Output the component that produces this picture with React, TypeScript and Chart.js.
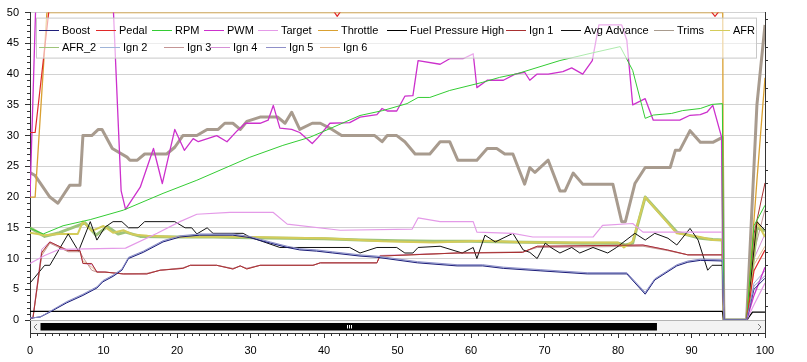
import React, { useEffect, useRef } from 'react';
import { Chart, registerables } from 'chart.js';
Chart.register(...registerables);

// ---------------- data ----------------
const boostX = [0, 1.4, 2.7, 5, 7.2, 9.1, 9.9, 11.3, 12.5, 13.4, 15.4, 18.1, 20.4, 23.1, 27.6, 29.9, 32.7, 35, 36.7, 39, 41.2, 44.9, 47.2, 52.7, 58.1, 61.6, 64.4, 69.4, 75.8, 81.2, 83.7, 85, 88, 89.5, 91.2, 94.2, 94.4, 97.5, 98.5, 100];
const boostY = [0.3, 0.5, 1.3, 2.8, 4, 5.2, 6.2, 7.1, 8.1, 10, 11, 12.7, 13.5, 13.8, 13.8, 13.4, 12.5, 11.8, 11.4, 11.2, 10.9, 10.4, 10.2, 9.3, 8.8, 8.8, 8.4, 8, 7.5, 7.5, 4.2, 6.5, 8.8, 9.4, 9.7, 9.6, 0, 0, 5, 6.8];

const pedalX = [0, 0.7, 2.6, 41.1, 41.8, 42.5, 92.4, 93.2, 94.0, 94.2, 96, 97.5, 98.5, 100];
const pedalY = [30.5, 30.5, 50.6, 50.6, 49.4, 50.6, 50.6, 49.4, 50.6, 50.6, null, 0, 8, 11.4];

const rpmX = [0, 1.8, 4.5, 8.2, 12.7, 18.1, 22.7, 29.9, 34.4, 38.1, 41.2, 44.9, 48, 51.3, 52.8, 54.4, 57.1, 61.6, 63.9, 66.3, 72.1, 76.6, 80.3, 82, 83.7, 84.8, 87.3, 88.8, 91.2, 92.8, 94.2, 94.4, 97.5, 98.5, 100];
const rpmY = [2240, 2100, 2300, 2450, 2680, 3090, 3410, 3970, 4260, 4460, 4700, 4990, 5110, 5280, 5430, 5430, 5600, 5800, 5920, 6010, 6330, 6520, 6670, 6090, 4920, 5000, 5040, 5110, 5160, 5260, 5280, 0, 0, 2300, 2800];

const pwmX = [0, 1, 11, 12.4, 13, 15, 16.8, 18, 19.7, 21, 22.2, 22.9, 25.4, 26.8, 28.2, 29.3, 31.3, 32.4, 33.1, 34, 35.6, 36.7, 38.4, 39.2, 40.8, 43.5, 44.9, 47.2, 47.9, 48.6, 49.9, 51, 52.1, 52.8, 55.8, 57.1, 58.9, 60.3, 60.8, 62.2, 64.4, 66, 67.3, 68, 69, 70.5, 72.5, 73.7, 75.2, 76.5, 77.4, 80.5, 81.2, 82, 83.7, 84.8, 88.4, 89.8, 91.2, 92.1, 92.9, 94.1, 94.4, 97.5, 98.5, 100];
const pwmY = [20, 60, 60, 21, 18, 21.6, 27.9, 22.2, 31, 27.6, 29.5, 29, 30, 29, 30.8, 32, 32, 32.5, 34.9, 31.2, 31, 30.5, 28.7, 29.7, 32, 32.1, 33, 33.4, 34.4, 34, 34, 36.4, 36.5, 42.2, 41.6, 42.5, 42.5, 43.3, 37.8, 39, 39, 40, 40.3, 39, 40, 40, 40.4, 41, 40, 42.2, 48, 48, 45.5, 35, 36, 32.5, 32.5, 33.3, 33.4, 33.8, 34.9, 29.7, 0, 0, 4, 8.6];

const targetX = [0, 2, 4, 13, 17.3, 20.4, 22.7, 27.2, 33.1, 35, 42.2, 52, 52.8, 55.8, 60.3, 60.8, 65.7, 68.4, 76.6, 77.9, 82, 83.4, 94.2, 94.4, 97.5, 98.5, 100];
const targetY = [9.2, 10.5, 11.5, 11.7, 14.1, 16, 17.2, 17.5, 17.5, 15.6, 14.6, 14.8, 16.6, 16, 16, 14.3, 14.1, 13.5, 13.5, 15.4, 15.7, 14.3, 14.3, 0, 0, 2.5, 6];

const throttleX = [0, 0.7, 2.3, 94.25, 94.35, 97.5, 98.9, 100];
const throttleY = [20, 20, 50, 50, 0, 0, 22.7, 39.4];

const fuelX = [0, 94.2, 94.4, 97.5, 98.3, 100];
const fuelY = [1.4, 1.4, 0, 0, 1.3, 1.3];

const ignX = [0, 0.4, 1.6, 2.7, 5.2, 6.8, 7.2, 8.4, 9.1, 10.2, 12.7, 15.9, 17.7, 20.8, 21.8, 25.4, 27.6, 28.6, 29.5, 31.3, 38.5, 39.5, 47.2, 47.6, 58.1, 67, 69, 83.4, 86.7, 89.5, 94.2, 94.4, 97.5, 98.5, 100];
const ign1Y = [0.3, 0.3, 11, 12.7, 11.3, 11.3, 9.2, 9.2, 7.8, 7.8, 7.5, 7.5, 8.1, 8.4, 8.9, 8.9, 8.3, 8.8, 8.3, 8.9, 8.9, 9.3, 9.3, 10.4, 10.9, 11, 12, 12.2, 11.4, 10.6, 10.6, 0, 0, 14, 22.3];
const ign3Y = [0.3, 0.3, 10.5, 12.5, 11.1, 11.1, 10.2, 8.1, 7.8, 7.8, 7.5, 7.6, 8.1, 8.5, 8.9, 8.9, 8.4, 8.8, 8.4, 8.9, 8.9, 9.3, 9.3, 10.4, 10.9, 11.1, 11.8, 12, 11.3, 10.6, 10.6, 0, 0, 11, 18];
const ign4Y = [0.3, 0.5, 11.5, 12.7, 11.3, 11.3, 9.2, 9.0, 7.9, 7.8, 7.5, 7.5, 8.1, 8.4, 8.9, 8.9, 8.3, 8.8, 8.4, 8.9, 8.9, 9.3, 9.3, 10.5, 10.9, 11, 11.9, 12.2, 11.4, 10.6, 10.6, 0, 0, 10, 14];
const ign6Y = [0.3, 0.3, 10.8, 12.6, 11.2, 11.2, 9.6, 8.6, 7.8, 7.8, 7.5, 7.5, 8.1, 8.4, 8.9, 8.9, 8.3, 8.8, 8.3, 8.9, 8.9, 9.3, 9.3, 10.4, 10.9, 11, 12, 12.1, 11.4, 10.6, 10.6, 0, 0, 9, 12];
const ign2Y = [0.3, 0.5, 1.3, 2.9, 4.1, 5.3, 6.3, 7.2, 8.2, 10.1, 11.1, 12.8, 13.6, 13.9, 13.9, 13.5, 12.6, 11.9, 11.5, 11.3, 11, 10.5, 10.3, 9.4, 8.9, 8.9, 8.5, 8.1, 7.6, 7.6, 4.3, 6.6, 8.9, 9.5, 9.8, 9.7, 0, 0, 6, 8];
const ign5Y = [0.3, 0.5, 1.4, 3.0, 4.2, 5.4, 6.4, 7.3, 8.3, 10.2, 11.2, 12.9, 13.7, 14.0, 14.0, 13.6, 12.7, 12.0, 11.6, 11.4, 11.1, 10.6, 10.4, 9.5, 9.0, 9.0, 8.6, 8.2, 7.7, 7.7, 4.5, 6.7, 9.0, 9.6, 9.9, 9.8, 0, 0, 5.5, 7.2];

const avgX = [0, 2, 2.7, 5.2, 6.6, 8.2, 9.1, 10.2, 11.3, 12.5, 13.4, 14.7, 15.6, 19.7, 21.1, 22, 22.7, 24.1, 24.9, 29, 29.9, 34, 43.5, 44.9, 47.2, 49.9, 51, 52.1, 52.8, 55.8, 58.8, 60.3, 60.8, 61.9, 63.3, 65.7, 67.1, 68, 69, 70.1, 71, 72.1, 73.7, 74.8, 76.6, 78.6, 79.8, 82.3, 83.7, 85, 86.8, 88, 89.8, 90.9, 92.2, 92.8, 94.2, 94.4, 97.5, 98.9, 100];
const avgY = [6, 8.9, 8.9, 14, 11.2, 16, 13, 15.1, 16, 16, 15, 15, 16, 16, 15, 15, 14, 15, 14.1, 14.1, 13.5, 11.8, 11.8, 10.9, 11.8, 11.8, 10.9, 10.9, 11.8, 12, 10.9, 11.8, 10, 13.8, 12.7, 14.1, 11.4, 11, 10, 12.5, 11.7, 10.9, 11.8, 10.9, 11.8, 10.9, 11.8, 14.1, 13, 14.1, 13.3, 12.2, 14.9, 13, 8.1, 8.9, 8.9, 0, 0, 16, 14.6];

const trimsX = [0, 0.7, 2.7, 3.8, 5.4, 6.8, 7.2, 8.4, 9.3, 9.8, 11.2, 13.2, 13.6, 14.6, 15.6, 18.6, 19.7, 20.8, 22.7, 24.1, 25.6, 26.5, 27.6, 28.6, 29.5, 31.3, 33.7, 34.7, 35.6, 36.7, 38.4, 39.5, 41.1, 42.4, 46.9, 47.9, 48.6, 49.9, 51, 52.4, 54.4, 55.8, 57.1, 58.2, 60.8, 62.2, 63.5, 64.6, 65.7, 67.3, 68, 68.7, 70.5, 72.1, 72.8, 73.9, 75.2, 79.3, 80.5, 81, 82.3, 83.7, 87.1, 87.8, 88.4, 89.8, 91.2, 92.9, 94.2, 94.4, 97.5, 98.9, 100];
const trimsY = [24, 23.5, 20, 19, 21.9, 21.9, 30, 30, 31, 31, 27.9, 26.5, 26, 26, 27, 27, 28.1, 30, 30, 31, 31, 32, 32, 31, 32.3, 33, 33, 32, 33.8, 31, 32, 32, 31, 30, 30, 29, 30, 30, 29, 27, 27, 29, 29, 26, 26, 27.9, 27.9, 27, 27, 22.1, 24.8, 24, 26, 21, 21, 23.9, 22.1, 22.1, 16, 16, 22.2, 24.8, 24.8, 27.6, 27.6, 30.8, 28.9, 28.9, 29.7, 0, 0, 35, 48];

const afrX = [0, 2, 4, 6.5, 7.2, 8.4, 10, 11.3, 12.7, 14, 16, 20, 25, 30, 35, 40, 43.5, 47.9, 54.9, 61.6, 66, 70, 75, 80, 80.8, 82, 83.7, 88, 91.2, 92.9, 94.2, 94.4, 97.5, 98.9, 100];
const afrY = [14.2, 13.8, 14, 14, 16, 14.5, 15.3, 14.2, 14.6, 13.9, 13.7, 13.5, 13.6, 13.5, 13.4, 13.3, 13.1, 12.8, 12.6, 12.9, 12.7, 12.6, 12.6, 12.6, 11.8, 12.8, 20, 14.1, 13.5, 13, 13, 0, 0, 16, 13.5];

const afr2X = [0, 2, 4, 7.5, 9, 10.5, 12, 13, 15, 20, 25, 30, 35, 40, 45, 50, 55, 60, 65, 70, 75, 80, 81, 82, 83.7, 88, 91.2, 92.9, 94.2, 94.4, 97.5, 98.9, 100];
const afr2Y = [15, 13.6, 14.2, 15.8, 13.8, 15.2, 14, 14.3, 13.6, 13.5, 13.5, 13.4, 13.3, 13.2, 13, 12.9, 12.8, 12.8, 12.7, 12.6, 12.5, 12.5, 12.2, 12.5, 20, 14.3, 13.3, 13.1, 13, 0, 0, 15, 14.5];

// axis ranges / ticks
const LEFT_MAX = 50;
const LEFT_STEP = 5;
const RIGHT_MAX = 7500;
const RIGHT_STEP = 1000;
const X_MAX = 100;
const X_STEP = 10;

const SERIES = [
  { label: 'Boost', xs: boostX, ys: boostY, color: '#1f1f7a', width: 1, axis: 'y' },
  { label: 'Pedal', xs: pedalX, ys: pedalY, color: '#e02828', width: 1.2, axis: 'y' },
  { label: 'RPM', xs: rpmX, ys: rpmY, color: '#33cc33', width: 1, axis: 'y1' },
  { label: 'PWM', xs: pwmX, ys: pwmY, color: '#cc30cc', width: 1.3, axis: 'y' },
  { label: 'Target', xs: targetX, ys: targetY, color: '#e49ae8', width: 1.2, axis: 'y' },
  { label: 'Throttle', xs: throttleX, ys: throttleY, color: '#d9a030', width: 1.3, axis: 'y' },
  { label: 'Fuel Pressure High', xs: fuelX, ys: fuelY, color: '#000000', width: 1.3, axis: 'y' },
  { label: 'Ign 1', xs: ignX, ys: ign1Y, color: '#a83030', width: 1, axis: 'y' },
  { label: 'Avg Advance', xs: avgX, ys: avgY, color: '#111111', width: 1, axis: 'y' },
  { label: 'Trims', xs: trimsX, ys: trimsY, color: '#a89b8e', width: 3, axis: 'y' },
  { label: 'AFR', xs: afrX, ys: afrY, color: '#d4cc5a', width: 2, axis: 'y' },
  { label: 'AFR_2', xs: afr2X, ys: afr2Y, color: '#9ec47a', width: 3, axis: 'y' },
  { label: 'Ign 2', xs: boostX, ys: ign2Y, color: '#9fb4d8', width: 1, axis: 'y' },
  { label: 'Ign 3', xs: ignX, ys: ign3Y, color: '#c49595', width: 1, axis: 'y' },
  { label: 'Ign 4', xs: ignX, ys: ign4Y, color: '#d690d6', width: 1, axis: 'y' },
  { label: 'Ign 5', xs: boostX, ys: ign5Y, color: '#8f8fc8', width: 1, axis: 'y', order: -1 },
  { label: 'Ign 6', xs: ignX, ys: ign6Y, color: '#e6b98a', width: 1, axis: 'y' },
];

// legend layout: text start x (px) for each entry, two rows
const LEGEND_TEXT_X = [62, 119, 175, 227, 281, 341, 410, 529, 584, 677, 733, 62, 123, 187, 233, 289, 343];
const LEGEND_ROW_BREAK = 11;

const FONT = '"Liberation Sans", Arial, sans-serif';

function keepSteps(step: number) {
  return (scale: any) => {
    scale.ticks = scale.ticks.filter((t: any) => t.value >= -1e-9 && Math.abs(t.value / step - Math.round(t.value / step)) < 1e-6);
  };
}

const decorPlugin = {
  id: 'decor',
  afterDraw(chart: any) {
    const { ctx, chartArea: ca, scales } = chart;
    const yL = scales.y, yR = scales.y1, xs = scales.x;
    ctx.save();
    // minor ticks
    ctx.strokeStyle = '#333';
    ctx.lineWidth = 1;
    ctx.beginPath();
    for (let v = 0; v <= LEFT_MAX; v += 1) {
      if (v % LEFT_STEP === 0) continue;
      const p = Math.round(yL.getPixelForValue(v)) + 0.5;
      ctx.moveTo(ca.left - 3, p); ctx.lineTo(ca.left, p);
    }
    for (let k = 1; k * (RIGHT_STEP / 3) <= RIGHT_MAX; k++) {
      if (k % 3 === 0) continue;
      const p = Math.round(yR.getPixelForValue(k * RIGHT_STEP / 3)) + 0.5;
      ctx.moveTo(ca.right, p); ctx.lineTo(ca.right + 3, p);
    }
    for (let v = 0; v <= X_MAX; v += 1) {
      if (v % X_STEP === 0) continue;
      const p = Math.round(xs.getPixelForValue(v)) + 0.5;
      ctx.moveTo(p, ca.bottom); ctx.lineTo(p, ca.bottom + 3);
    }
    ctx.stroke();

    // scrollbar strip below the zero line
    const zy = Math.round(yL.getPixelForValue(0)) + 0.5;
    const sTop = zy + 0.5;
    const sBot = ca.bottom;
    ctx.fillStyle = '#f3f3f3';
    ctx.fillRect(ca.left + 1, sTop, ca.right - ca.left - 1, sBot - sTop);
    ctx.strokeStyle = '#b4b4b4';
    ctx.beginPath(); ctx.moveTo(ca.left, zy); ctx.lineTo(ca.right, zy); ctx.stroke();
    const w = ca.right - ca.left;
    const thL = ca.left + 10.5;
    const thR = ca.left + w * 0.853;
    ctx.fillStyle = '#000';
    ctx.fillRect(thL, sTop + 2, thR - thL, sBot - sTop - 4.5);
    const mid = (thL + thR) / 2;
    ctx.strokeStyle = '#fff';
    ctx.beginPath();
    for (const d of [-2, 0, 2]) {
      ctx.moveTo(Math.round(mid + d) + 0.5, sTop + 4); ctx.lineTo(Math.round(mid + d) + 0.5, sBot - 4.5);
    }
    ctx.stroke();
    ctx.strokeStyle = '#777';
    const cy = (sTop + sBot) / 2;
    ctx.beginPath();
    ctx.moveTo(ca.left + 7, cy - 3); ctx.lineTo(ca.left + 4, cy); ctx.lineTo(ca.left + 7, cy + 3);
    ctx.moveTo(ca.right - 7, cy - 3); ctx.lineTo(ca.right - 4, cy); ctx.lineTo(ca.right - 7, cy + 3);
    ctx.stroke();

    // legend box
    const bx = ca.left + 6.5, by = ca.top + 5.5, bw = 720, bh = 40;
    ctx.fillStyle = 'rgba(255,255,255,0.6)';
    ctx.fillRect(bx, by, bw, bh);
    ctx.strokeStyle = '#c8c8c8';
    ctx.strokeRect(bx, by, bw, bh);
    ctx.font = '11px ' + FONT;
    ctx.textBaseline = 'middle';
    ctx.textAlign = 'left';
    chart.data.datasets.forEach((ds: any, i: number) => {
      const rowY = i < LEGEND_ROW_BREAK ? by + 12 : by + 29;
      const tx = LEGEND_TEXT_X[i];
      const ly = Math.round(rowY) + 0.5;
      ctx.strokeStyle = ds.borderColor;
      ctx.lineWidth = 1;
      ctx.beginPath(); ctx.moveTo(tx - 23, ly); ctx.lineTo(tx - 3, ly); ctx.stroke();
      ctx.fillStyle = '#000';
      ctx.fillText(ds.label, tx, ly + 0.5);
    });
    ctx.restore();
  },
};

export default function App() {
  const ref = useRef<HTMLCanvasElement | null>(null);
  useEffect(() => {
    document.body.style.margin = '0';
    const canvas = ref.current;
    if (!canvas) return;
    Chart.defaults.font.family = FONT;
    Chart.defaults.font.size = 11;
    Chart.defaults.color = '#000';
    const datasets = SERIES.map((s) => ({
      label: s.label,
      data: s.xs.map((x, i) => ({ x, y: s.ys[i] })),
      borderColor: s.color,
      backgroundColor: s.color,
      borderWidth: s.width,
      yAxisID: s.axis,
      pointRadius: 0,
      tension: 0,
      fill: false,
      order: (s as any).order ?? 0,
      borderJoinStyle: 'round' as const,
    }));
    const chart = new Chart(canvas, {
      type: 'line',
      data: { datasets },
      options: {
        responsive: false,
        animation: false,
        devicePixelRatio: 1,
        layout: { padding: { top: 12, left: 0, right: 0, bottom: 0 } },
        plugins: { legend: { display: false }, tooltip: { enabled: false }, title: { display: false } },
        scales: {
          x: {
            type: 'linear', position: 'bottom', min: 0, max: X_MAX,
            ticks: { stepSize: X_STEP, maxRotation: 0, autoSkip: false, padding: 6, color: '#000', font: { size: 11, family: FONT } },
            grid: { drawOnChartArea: false, tickLength: 5, tickColor: '#333' },
            border: { color: '#333' },
            afterFit: (s: any) => { s.height = 29; },
          },
          y: {
            type: 'linear', position: 'left', min: -LEFT_MAX * 13 / 308, max: LEFT_MAX,
            ticks: { stepSize: LEFT_STEP, padding: 6, color: '#000', font: { size: 11, family: FONT } },
            grid: { color: '#d2d2d2', tickColor: '#333', tickLength: 5 },
            border: { color: '#333' },
            afterBuildTicks: keepSteps(LEFT_STEP),
            afterFit: (s: any) => { s.width = 30; },
          },
          y1: {
            type: 'linear', position: 'right', min: -RIGHT_MAX * 13 / 308, max: RIGHT_MAX,
            ticks: { stepSize: RIGHT_STEP, padding: 4, color: '#000', font: { size: 11, family: FONT } },
            grid: { drawOnChartArea: false, tickColor: '#333', tickLength: 5 },
            border: { color: '#333' },
            afterBuildTicks: keepSteps(RIGHT_STEP),
            afterFit: (s: any) => { s.width = 42; },
          },
        },
      },
      plugins: [decorPlugin],
    });
    return () => chart.destroy();
  }, []);
  return (
    <div style={{ width: 807, height: 362, background: '#fff' }}>
      <canvas ref={ref} width={807} height={362} style={{ display: 'block', width: 807, height: 362 }} />
    </div>
  );
}
